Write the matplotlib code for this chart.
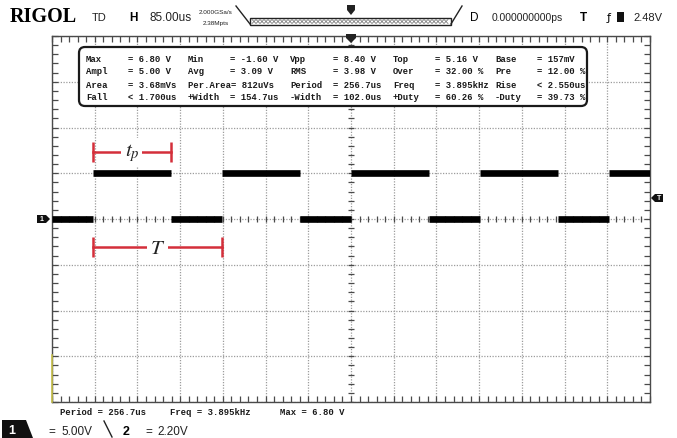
import matplotlib
matplotlib.use("Agg")
import matplotlib.pyplot as plt
from matplotlib.patches import FancyBboxPatch, Polygon, Rectangle
import numpy as np

W, H = 677, 439

# scope settings
t_div = 85.0   # us per division
v_div = 5.0    # V per division
n_xdiv = 14
n_ydiv = 8

# square wave edges (us) and levels (V)
rise_us = [-513.4, -256.7, 0.0, 256.7, 513.4]
fall_us = [-358.7, -102.0, 154.7, 411.4]
v_high = 5.0
v_low = 0.0

# measurement panel
meas_labels = [["Max", "Min", "Vpp", "Top", "Base"],
               ["Ampl", "Avg", "RMS", "Over", "Pre"],
               ["Area", "Per.Area= 812uVs", "Period", "Freq", "Rise"],
               ["Fall", "+Width", "-Width", "+Duty", "-Duty"]]
meas_values = [["= 6.80 V", "= -1.60 V", "= 8.40 V", "= 5.16 V", "= 157mV"],
               ["= 5.00 V", "= 3.09 V", "= 3.98 V", "= 32.00 %", "= 12.00 %"],
               ["= 3.68mVs", "", "= 256.7us", "= 3.895kHz", "< 2.550us"],
               ["< 1.700us", "= 154.7us", "= 102.0us", "= 60.26 %", "= 39.73 %"]]
bottom_meas = ["Period = 256.7us", "Freq = 3.895kHz", "Max = 6.80 V"]

RED = "#d42f3a"
GRID = "#9c9c9c"
EDGE = "#4a4a4a"
MONO = dict(family="Liberation Mono", fontsize=6.4, fontweight="bold", color="#1a1a1a")
SANS = "Liberation Sans"

plt.rcParams["mathtext.fontset"] = "stix"

fig = plt.figure(figsize=(W / 100, H / 100), dpi=100)
fig.patch.set_facecolor("white")

# ---- screen grid ----
ax = fig.add_axes([52 / W, (H - 403) / H, 598 / W, 366 / H])
xmin, xmax = -n_xdiv / 2 * t_div, n_xdiv / 2 * t_div
ymin, ymax = -n_ydiv / 2 * v_div, n_ydiv / 2 * v_div
ax.set_xlim(xmin, xmax)
ax.set_ylim(ymin, ymax)
ax.set_xticks(np.arange(-n_xdiv / 2, n_xdiv / 2 + 1) * t_div)
ax.set_yticks(np.arange(-n_ydiv / 2, n_ydiv / 2 + 1) * v_div)
minor_x = np.arange(-n_xdiv / 2, n_xdiv / 2 + 0.01, 0.2) * t_div
minor_y = np.arange(-n_ydiv / 2, n_ydiv / 2 + 0.01, 0.2) * v_div
ax.set_xticks(minor_x, minor=True)
ax.set_yticks(minor_y, minor=True)
ax.tick_params(which="both", direction="in", length=4, width=0.9, color=EDGE,
               top=True, right=True, labelbottom=False, labelleft=False)
ax.grid(which="major", color=GRID, ls=(0, (1, 1.2)), lw=0.9)
for s in ax.spines.values():
    s.set_color(EDGE)
    s.set_linewidth(1.0)
# ticks on the centre axes
ax.plot(minor_x, np.zeros_like(minor_x), "|", ms=4, mew=0.9, color=EDGE)
ax.plot(np.zeros_like(minor_y), minor_y, "_", ms=4, mew=0.9, color=EDGE)

# ---- waveform (horizontal runs only, edges too fast to show) ----
lows_start = [xmin] + fall_us
lows_end = rise_us
highs_start = rise_us
highs_end = fall_us + [xmax]
ax.hlines([v_low] * len(lows_start), lows_start, lows_end, color="black", lw=4.8,
          capstyle="butt", zorder=4)
ax.hlines([v_high] * len(highs_start), highs_start, highs_end, color="black", lw=4.8,
          capstyle="butt", zorder=4)

# ---- tp and T markers ----
yp = 1.46 * v_div
yT = -0.61 * v_div
for x0, x1, y, lab in [(rise_us[0], fall_us[0], yp, "$t_p$"),
                       (rise_us[0], rise_us[1], yT, "$T$")]:
    ax.plot([x0, x1], [y, y], color=RED, lw=1.8, zorder=5)
    ax.plot([x0, x1], [y, y], "|", color=RED, ms=15, mew=1.8, zorder=5)
    ax.text((x0 + x1) / 2, y, lab, color="#222222", fontsize=15, ha="center",
            va="center", zorder=6,
            bbox=dict(boxstyle="square,pad=0.15", fc="white", ec="none"))

# ---- overlay in screen pixels ----
ov = fig.add_axes([0, 0, 1, 1], zorder=5)
ov.set_xlim(0, W)
ov.set_ylim(H, 0)
ov.axis("off")
ov.patch.set_alpha(0)

# measurement box
box = FancyBboxPatch((79, 48), 508, 59, boxstyle="round,pad=0,rounding_size=6",
                     fc="white", ec="#1a1a1a", lw=1.6)
ov.add_patch(box)
lab_x = [86, 188, 290, 393, 495]
val_x = [128, 230, 333, 435, 537]
row_y = [59, 72, 85, 98]
for r, y in enumerate(row_y):
    for c in range(5):
        ov.text(lab_x[c], y, meas_labels[r][c], va="center", ha="left", **MONO)
        ov.text(val_x[c], y, meas_values[r][c], va="center", ha="left", **MONO)

# bottom measurements
for x, s in zip([60, 170, 280], bottom_meas):
    ov.text(x, 413, s, va="center", ha="left", **MONO)

# header
ov.text(10, 17, "RIGOL", family="Liberation Serif", fontweight="bold", fontsize=14.5,
        va="center", ha="left")
ov.text(92, 18, "TD", family=SANS, fontsize=8, va="center", color="#222")
ov.text(129, 18, "H", family=SANS, fontsize=8.5, fontweight="bold", va="center")
ov.text(150, 18, "85.00us", family=SANS, fontsize=8.5, va="center", color="#222")
ov.text(199, 12, "2.000GSa/s", family=SANS, fontsize=4.6, va="center", color="#222")
ov.text(203, 23, "2.38Mpts", family=SANS, fontsize=4.6, va="center", color="#222")
ov.plot([236, 250], [7, 25], color="#222", lw=1)
ov.plot([451, 462], [25, 7], color="#222", lw=1)
ov.add_patch(Rectangle((250, 19), 201, 7, fc="white", ec="#222", lw=1))
zz_x = np.arange(252, 450, 4)
zz_a = np.where(np.arange(len(zz_x)) % 2 == 0, 20.5, 24.5)
zz_b = np.where(np.arange(len(zz_x)) % 2 == 0, 24.5, 20.5)
ov.plot(zz_x, zz_a, color="#666", lw=0.5)
ov.plot(zz_x, zz_b, color="#666", lw=0.5)
ov.add_patch(Polygon([(347, 6), (355, 6), (355, 11), (351, 16), (347, 11)],
                     closed=True, fc="#222", ec="none"))
ov.text(474, 18, "D", family=SANS, fontsize=8.5, va="center", ha="center")
ov.text(492, 18, "0.000000000ps", family=SANS, fontsize=7.4, va="center", color="#222")
ov.text(583, 18, "T", family=SANS, fontsize=8.5, fontweight="bold", va="center", ha="center")
ov.text(609, 18, "\u0192", family="DejaVu Sans", fontsize=8, va="center", ha="center")
ov.add_patch(Rectangle((617, 13), 7, 10, fc="#111", ec="none"))
ov.text(633, 18, "2.48V", family=SANS, fontsize=8, va="center", color="#222")

# trigger position marker at top of grid
ov.add_patch(Polygon([(346, 35), (356, 35), (356, 39), (351, 44), (346, 39)],
                     closed=True, fc="#222", ec="none"))
# channel 1 ground marker
ov.add_patch(Polygon([(37, 216), (46, 216), (50, 220), (46, 224), (37, 224)],
                     closed=True, fc="#111", ec="none"))
ov.text(42, 220, "1", color="white", fontsize=5, fontweight="bold", ha="center",
        va="center", family=SANS)
# trigger level marker
ov.add_patch(Polygon([(651, 199), (655, 195), (663, 195), (663, 203), (655, 203)],
                     closed=True, fc="#111", ec="none"))
ov.text(659, 199, "T", color="white", fontsize=5, fontweight="bold", ha="center",
        va="center", family=SANS)
# yellow strip on bottom-left border
ov.plot([52, 52], [356, 403], color="#c9c24a", lw=1.2)

# channel status line
ov.add_patch(Polygon([(2, 421), (26, 421), (33, 439), (2, 439)], closed=True,
                     fc="#111", ec="none"))
ov.text(12, 431, "1", color="white", fontsize=9, fontweight="bold", ha="center",
        va="center", family=SANS)
ov.text(48, 432, "=", family=SANS, fontsize=8.5, va="center", color="#222")
ov.text(61, 432, "5.00V", family=SANS, fontsize=8.5, va="center", color="#222")
ov.plot([104, 112], [422, 438], color="#222", lw=1)
ov.text(123, 432, "2", family=SANS, fontsize=9, fontweight="bold", va="center")
ov.text(145, 432, "=", family=SANS, fontsize=8.5, va="center", color="#222")
ov.text(157, 432, "2.20V", family=SANS, fontsize=8.5, va="center", color="#222")

fig.savefig("out.png", dpi=100, facecolor="white")
